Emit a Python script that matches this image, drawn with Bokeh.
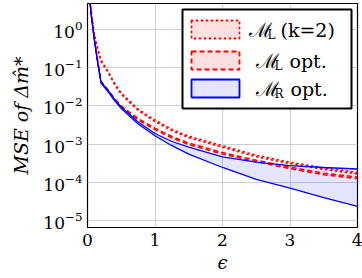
import numpy as np
from bokeh.plotting import figure
from bokeh.models import Range1d, FixedTicker
from bokeh.core.properties import value
from bokeh.embed import file_html
from bokeh.resources import INLINE

# ---- data (MSE given as log10 values) ----
eps = [0.03, 0.05, 0.1, 0.15, 0.2, 0.3, 0.4, 0.5, 0.75, 1.0, 1.25, 1.5, 2.0, 2.5, 3.0, 3.5, 4.0]
mr_opt_upper_log = [0.90, 0.45, -0.25, -0.85, -1.38, -1.58, -1.82, -2.03, -2.42, -2.72, -2.93, -3.08, -3.33, -3.47, -3.56, -3.61, -3.65]
mr_opt_lower_log = [0.90, 0.45, -0.25, -0.85, -1.40, -1.62, -1.86, -2.07, -2.47, -2.78, -3.04, -3.26, -3.61, -3.92, -4.15, -4.40, -4.63]
ml_opt_upper_log = [0.95, 0.50, -0.20, -0.80, -1.35, -1.57, -1.80, -2.00, -2.33, -2.58, -2.80, -2.97, -3.22, -3.42, -3.60, -3.76, -3.86]
ml_opt_lower_log = [0.93, 0.48, -0.22, -0.82, -1.37, -1.60, -1.83, -2.03, -2.37, -2.62, -2.84, -3.01, -3.26, -3.46, -3.64, -3.80, -3.90]
ml_k2_upper_log = [1.10, 0.55, -0.12, -0.48, -0.80, -1.08, -1.40, -1.66, -2.08, -2.37, -2.61, -2.79, -3.04, -3.29, -3.47, -3.62, -3.74]
ml_k2_lower_log = [1.09, 0.53, -0.14, -0.51, -0.83, -1.11, -1.44, -1.70, -2.12, -2.41, -2.65, -2.83, -3.08, -3.33, -3.51, -3.66, -3.78]

x_ticks = [0, 1, 2, 3, 4]
y_ticks = [1e-5, 1e-4, 1e-3, 1e-2, 1e-1, 1e0]
legend_labels = [("ℳ", "L", "(k=2)"), ("ℳ", "L", "opt."), ("ℳ", "R", "opt.")]

def tolin(a):
    return [10.0 ** v for v in a]

# ---- layout ----
FRAME_W, FRAME_H = 270, 224
BORDER_L, BORDER_T, BORDER_R, BORDER_B = 87, 3, 5, 51
X_MIN, X_MAX = 0.0, 4.0
Y_LOG_MIN, Y_LOG_MAX = -5.18, 0.68
PX_PER_X = FRAME_W / (X_MAX - X_MIN)
PX_PER_DEC = FRAME_H / (Y_LOG_MAX - Y_LOG_MIN)

def px2x(px):
    return X_MIN + (px - BORDER_L) / PX_PER_X

def py2y(py):
    return 10 ** (Y_LOG_MAX - (py - BORDER_T) / PX_PER_DEC)

SERIF = "DejaVu Serif"
RED = "#ff0000"
BLUE = "#0000ff"

p = figure(frame_width=FRAME_W, frame_height=FRAME_H, y_axis_type="log",
           x_range=Range1d(X_MIN, X_MAX), y_range=Range1d(10 ** Y_LOG_MIN, 10 ** Y_LOG_MAX),
           output_backend="svg", toolbar_location=None,
           min_border_left=BORDER_L, min_border_top=BORDER_T,
           min_border_right=BORDER_R, min_border_bottom=BORDER_B)
p.background_fill_color = "white"
p.border_fill_color = "white"
p.outline_line_color = "black"
p.outline_line_width = 1.2

for ax in (p.xaxis, p.yaxis):
    ax.axis_line_color = None
    ax.major_tick_in = 0
    ax.major_tick_out = 0
    ax.minor_tick_in = 0
    ax.minor_tick_out = 0
    ax.major_label_text_font = SERIF
    ax.major_label_text_font_size = "17px"
    ax.major_label_text_color = "black"
    ax.axis_label_text_font = SERIF
    ax.axis_label_text_font_style = "italic"
    ax.axis_label_text_color = "black"

p.xaxis.axis_label_text_font_size = "18px"
p.yaxis.axis_label_text_font_size = "19px"

p.xaxis.ticker = FixedTicker(ticks=x_ticks)
p.yaxis.ticker = FixedTicker(ticks=y_ticks)
p.xaxis.major_label_standoff = 6
p.yaxis.major_label_standoff = 5
p.xaxis.axis_label = "ϵ"
p.xaxis.axis_label_standoff = 3
p.yaxis.axis_label = "MSE of Δm̂*"
p.yaxis.axis_label_standoff = 8

p.xgrid.grid_line_color = "#cfcfcf"
p.ygrid.grid_line_color = "#cfcfcf"
p.xgrid.grid_line_width = 1
p.ygrid.grid_line_width = 1

# bands
p.varea(x=eps, y1=tolin(mr_opt_lower_log), y2=tolin(mr_opt_upper_log), fill_color=BLUE, fill_alpha=0.1)
p.varea(x=eps, y1=tolin(ml_opt_lower_log), y2=tolin(ml_opt_upper_log), fill_color=RED, fill_alpha=0.1)
p.varea(x=eps, y1=tolin(ml_k2_lower_log), y2=tolin(ml_k2_upper_log), fill_color=RED, fill_alpha=0.1)

for arr in (ml_k2_upper_log, ml_k2_lower_log):
    p.line(eps, tolin(arr), line_color=RED, line_width=1.6, line_dash="1 4", line_cap="round")
for arr in (ml_opt_upper_log, ml_opt_lower_log):
    p.line(eps, tolin(arr), line_color=RED, line_width=1.5, line_dash="5 3")
for arr in (mr_opt_upper_log, mr_opt_lower_log):
    p.line(eps, tolin(arr), line_color=BLUE, line_width=1.3)

# legend (drawn manually)
p.quad(left=[px2x(182)], right=[px2x(351)], top=[py2y(9)], bottom=[py2y(108)],
       fill_color="white", line_color="black", line_width=2)
rows_y = [29, 60, 88]
sw_styles = [(RED, 0.12, "1 4", "round"), (RED, 0.12, "5 3", "butt"), (BLUE, 0.1, "solid", "butt")]
for (col, fa, dash, cap), ry in zip(sw_styles, rows_y):
    p.quad(left=[px2x(191)], right=[px2x(239)], top=[py2y(ry - 9)], bottom=[py2y(ry + 9)],
           fill_color=col, fill_alpha=fa, line_color=col, line_width=1.8, line_dash=dash, line_cap=cap)

main_x = [248, 255, 255]
rest_x = [280, 289, 290]
for (m, sub, rest), ry, mx, rx in zip(legend_labels, rows_y, main_x, rest_x):
    p.text(x=[px2x(mx)], y=[py2y(ry)], text=[m], text_font=value(SERIF), text_font_size="20px",
           text_baseline="middle", text_align="left", text_color="black")
    p.text(x=[px2x(mx + 19)], y=[py2y(ry + 5)], text=[sub], text_font=value(SERIF), text_font_size="12px",
           text_baseline="middle", text_align="left", text_color="black")
    p.text(x=[px2x(rx)], y=[py2y(ry)], text=[rest], text_font=value(SERIF),
           text_font_size="19px", text_baseline="middle", text_align="left", text_color="black")

open("out.html", "w").write(file_html(p, INLINE))
